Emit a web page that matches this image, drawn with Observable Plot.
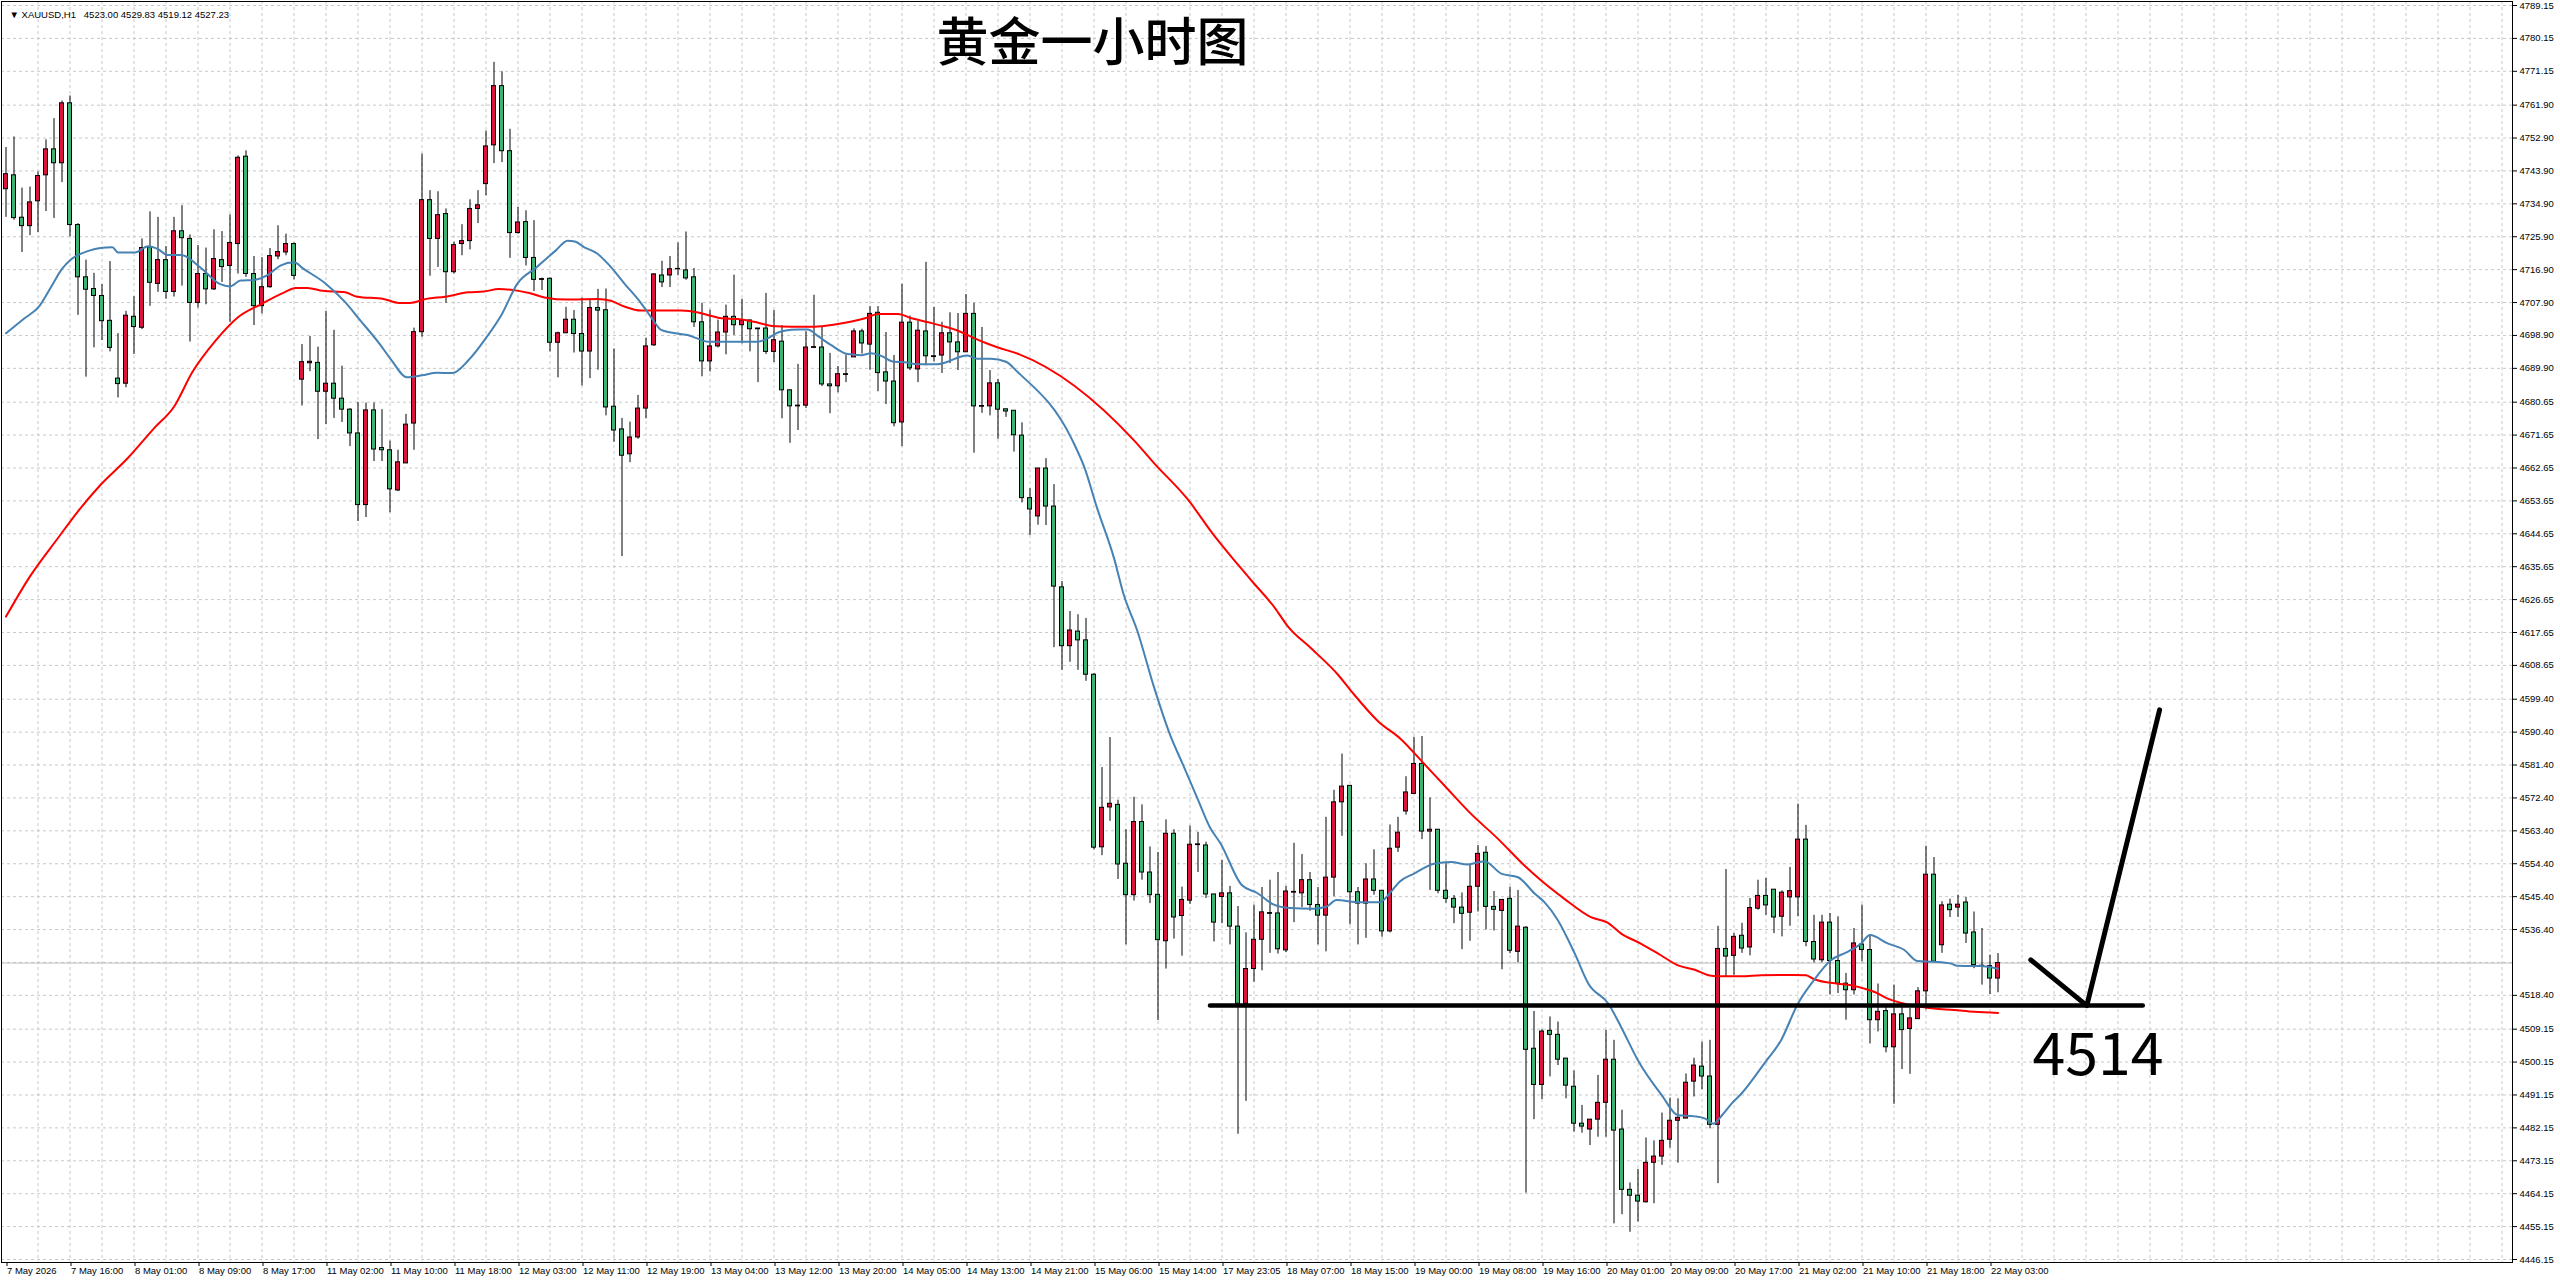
<!DOCTYPE html>
<html>
<head>
<meta charset="utf-8">
<script src="https://cdn.jsdelivr.net/npm/d3@7"></script>
<script src="https://cdn.jsdelivr.net/npm/@observablehq/plot@0.6"></script>
<style>
  html, body { margin: 0; padding: 0; background: #f0f0f0; }
  svg { display: block; }
</style>
</head>
<body>
<script>
// ---------- DATA ----------
const symbolHeader = "▼ XAUUSD,H1\u00a0\u00a0 4523.00 4529.83 4519.12 4527.23";
const chartTitle = "黄金一小时图";
const currentPrice = 4527.23;

// hourly bars, index 0 = 7 May 2026 (oldest) ... 249 = 22 May 04:00 (newest)
const opens = [4738.9,4742.7,4731.1,4728.8,4735.6,4742.7,4749.8,4746.0,4762.4,4729.1,4714.8,4711.6,4709.7,4702.9,4687.1,4685.7,4704.0,4701.0,4723.0,4713.0,4719.5,4710.8,4727.4,4725.3,4707.8,4715.7,4711.5,4719.5,4717.9,4723.9,4747.8,4715.7,4706.9,4712.1,4720.5,4721.6,4723.9,4686.8,4691.3,4691.4,4683.5,4685.7,4681.6,4678.6,4672.1,4652.5,4678.4,4668.1,4667.5,4656.5,4663.9,4674.8,4699.8,4735.9,4725.3,4732.1,4716.2,4723.9,4724.7,4733.5,4740.3,4750.9,4767.1,4749.3,4726.9,4729.9,4720.1,4714.1,4714.4,4696.9,4699.5,4703.2,4699.3,4694.5,4706.4,4705.8,4679.4,4673.2,4666.4,4671.0,4678.9,4696.2,4715.3,4715.3,4717.0,4716.7,4714.8,4702.5,4691.8,4695.9,4699.7,4704.0,4701.7,4703.0,4700.6,4700.8,4694.4,4697.2,4683.9,4679.5,4679.7,4695.5,4695.6,4685.5,4685.0,4688.1,4692.9,4700.0,4696.4,4705.1,4688.8,4686.3,4675.1,4702.4,4689.6,4700.0,4693.0,4693.4,4699.5,4697.0,4694.3,4704.8,4679.4,4679.5,4685.8,4678.7,4678.3,4671.5,4654.4,4649.4,4662.5,4652.1,4630.0,4613.9,4617.9,4615.5,4606.1,4558.9,4569.8,4570.5,4554.4,4545.8,4565.8,4552.0,4545.9,4533.2,4562.6,4540.1,4544.3,4559.5,4559.4,4546.0,4545.3,4546.3,4537.2,4516.1,4525.6,4533.6,4540.7,4540.8,4530.7,4546.5,4546.3,4549.9,4543.1,4540.2,4550.6,4571.2,4575.7,4546.6,4543.5,4550.1,4547.0,4535.9,4558.8,4568.7,4573.5,4581.7,4563.2,4563.7,4547.0,4544.8,4542.4,4541.0,4548.1,4557.4,4542.6,4541.5,4544.8,4530.3,4536.9,4503.8,4493.9,4508.7,4507.6,4501.1,4493.4,4483.3,4481.7,4484.4,4489.0,4500.8,4481.7,4465.2,4463.6,4461.8,4472.6,4474.3,4478.9,4484.1,4484.7,4494.8,4498.9,4496.2,4483.0,4531.1,4529.2,4534.7,4531.5,4542.1,4545.6,4547.3,4539.9,4545.2,4545.2,4561.0,4533.0,4528.0,4538.3,4527.8,4521.6,4519.8,4532.3,4530.8,4511.6,4514.1,4504.2,4513.2,4509.2,4511.9,4519.5,4551.4,4532.1,4543.2,4542.4,4543.8,4535.6,4526.5,4526.4,4523.00];
const highs = [4750.3,4753.2,4739.2,4739.5,4743.6,4752.4,4758.2,4763.0,4764.4,4729.5,4719.5,4715.9,4712.8,4719.1,4699.4,4705.5,4709.5,4725.3,4732.7,4731.2,4723.2,4731.2,4734.4,4726.4,4723.5,4722.8,4727.8,4727.3,4731.9,4748.0,4749.4,4720.5,4720.2,4722.7,4728.9,4726.6,4724.2,4696.4,4698.6,4695.7,4705.5,4700.3,4690.5,4678.9,4680.6,4680.4,4680.4,4678.6,4670.0,4667.5,4677.3,4700.9,4748.5,4738.5,4738.2,4733.5,4724.4,4729.2,4736.0,4738.5,4754.8,4773.6,4771.0,4755.3,4733.9,4733.0,4730.3,4714.6,4714.6,4699.8,4706.6,4705.7,4709.1,4708.9,4711.5,4711.6,4695.2,4676.2,4675.2,4682.5,4698.1,4715.8,4719.2,4720.5,4724.2,4727.2,4717.2,4707.7,4705.8,4703.1,4707.2,4715.4,4708.8,4703.1,4700.8,4710.4,4705.7,4701.6,4683.9,4691.0,4699.9,4709.9,4701.3,4694.0,4690.4,4693.5,4700.7,4700.6,4706.8,4706.8,4699.7,4693.4,4712.9,4704.2,4702.7,4718.9,4706.6,4702.5,4705.1,4704.9,4710.1,4707.7,4701.1,4689.3,4686.9,4678.7,4678.3,4675.0,4657.0,4662.6,4665.2,4658.1,4631.6,4623.4,4622.5,4621.5,4606.4,4580.7,4588.9,4571.8,4563.7,4572.6,4570.5,4559.0,4557.5,4566.4,4563.7,4548.0,4564.7,4563.0,4560.3,4546.0,4555.3,4548.2,4542.7,4535.5,4543.1,4547.9,4549.9,4552.0,4548.2,4560.0,4556.9,4552.0,4547.9,4567.1,4574.5,4584.4,4575.7,4547.9,4554.4,4558.2,4547.0,4565.0,4567.1,4578.2,4589.0,4589.2,4572.4,4563.7,4554.8,4545.7,4546.4,4554.2,4559.4,4559.1,4546.8,4544.5,4548.0,4547.1,4537.2,4514.0,4509.0,4512.5,4511.1,4501.1,4497.7,4488.3,4484.4,4496.5,4508.8,4506.1,4487.0,4467.1,4470.8,4479.4,4478.6,4486.2,4490.3,4490.1,4496.9,4501.2,4505.6,4506.1,4537.3,4552.8,4535.3,4538.1,4544.9,4549.9,4550.4,4547.3,4547.0,4553.4,4570.7,4564.9,4540.3,4540.3,4540.8,4539.9,4524.4,4536.7,4543.1,4534.9,4521.5,4515.7,4521.2,4515.7,4514.8,4520.5,4559.2,4556.1,4544.0,4544.7,4545.8,4545.2,4541.2,4536.7,4529.4,4529.83];
const lows = [4731.2,4730.4,4721.6,4726.2,4727.0,4732.8,4730.9,4740.7,4725.9,4704.4,4687.5,4695.5,4697.5,4694.4,4681.8,4684.6,4693.7,4700.5,4706.9,4710.7,4708.8,4709.4,4712.4,4697.1,4706.4,4707.3,4711.2,4713.4,4702.5,4715.7,4714.8,4701.6,4704.8,4711.8,4719.6,4720.7,4714.1,4679.6,4689.0,4670.4,4674.5,4676.2,4675.1,4668.5,4648.0,4649.1,4664.4,4664.4,4650.4,4656.2,4663.9,4667.5,4698.4,4715.1,4717.5,4707.7,4715.7,4720.7,4722.3,4729.5,4737.1,4745.9,4746.2,4720.0,4726.6,4717.9,4710.9,4711.2,4694.4,4687.3,4699.4,4694.1,4685.1,4687.1,4689.4,4676.9,4669.7,4638.4,4664.1,4670.5,4676.1,4695.9,4712.0,4712.0,4715.2,4714.0,4701.1,4687.6,4688.9,4695.5,4693.6,4698.9,4696.6,4694.4,4686.0,4693.7,4691.5,4676.1,4669.4,4672.9,4678.9,4695.3,4684.9,4677.5,4683.2,4686.0,4692.9,4693.8,4689.4,4683.5,4680.0,4673.9,4668.5,4689.3,4686.0,4690.6,4691.7,4688.5,4691.2,4689.3,4694.3,4666.7,4677.6,4676.9,4670.5,4676.5,4667.0,4653.1,4644.2,4647.0,4646.9,4613.5,4607.3,4609.5,4607.3,4604.3,4558.2,4556.6,4566.0,4550.1,4532.2,4544.2,4549.9,4543.5,4511.5,4525.6,4533.8,4529.1,4543.3,4552.0,4544.9,4533.0,4538.0,4532.2,4480.4,4489.4,4522.0,4525.1,4529.9,4529.7,4530.1,4538.3,4542.4,4541.4,4532.2,4530.3,4545.4,4561.9,4537.7,4532.2,4534.0,4545.8,4534.3,4535.5,4557.5,4567.7,4573.5,4561.0,4547.1,4546.2,4543.6,4538.0,4530.9,4533.2,4541.2,4536.3,4536.0,4525.4,4529.8,4527.3,4464.3,4484.4,4489.9,4496.1,4499.2,4490.1,4481.0,4480.7,4477.3,4479.6,4479.6,4455.9,4458.4,4453.6,4456.4,4461.6,4461.4,4471.9,4476.6,4472.5,4484.7,4490.6,4492.6,4481.9,4466.9,4523.3,4523.9,4529.9,4529.2,4541.7,4540.3,4535.3,4534.4,4537.3,4539.9,4531.7,4527.3,4527.3,4518.5,4518.9,4511.6,4518.5,4527.6,4505.1,4508.4,4502.7,4488.6,4498.1,4496.8,4511.9,4514.4,4527.3,4529.9,4539.7,4539.7,4532.6,4525.7,4521.2,4518.6,4519.12];
const closes = [4743.0,4731.0,4728.8,4735.3,4742.5,4749.8,4746.0,4762.4,4729.1,4714.8,4711.4,4709.7,4702.8,4695.5,4685.6,4704.3,4701.2,4722.8,4713.3,4719.5,4710.8,4727.4,4725.5,4707.8,4715.7,4711.5,4719.8,4717.6,4724.2,4747.5,4715.7,4706.9,4712.1,4720.6,4721.7,4723.9,4715.2,4691.6,4691.7,4683.5,4685.7,4681.6,4678.6,4672.1,4652.5,4678.4,4667.7,4667.5,4656.8,4664.2,4674.5,4699.8,4735.9,4725.3,4731.8,4716.2,4723.6,4724.7,4733.5,4734.5,4750.6,4767.1,4749.3,4726.9,4729.8,4720.1,4714.1,4714.3,4696.9,4699.5,4703.2,4699.3,4694.5,4706.4,4705.7,4679.2,4672.9,4666.0,4671.0,4678.9,4695.9,4715.6,4713.4,4717.0,4717.1,4714.5,4702.5,4691.8,4695.9,4699.7,4704.0,4701.7,4703.0,4700.6,4700.8,4694.4,4697.6,4683.9,4679.5,4679.7,4695.6,4695.7,4685.5,4685.0,4688.3,4688.3,4700.0,4696.7,4704.8,4688.6,4686.3,4674.9,4702.4,4689.9,4700.2,4693.2,4693.2,4699.5,4697.0,4694.3,4704.8,4679.5,4679.6,4685.8,4678.6,4678.1,4671.6,4654.4,4651.3,4662.5,4652.1,4630.2,4613.9,4618.2,4615.5,4606.1,4558.8,4569.7,4570.8,4554.2,4545.8,4565.8,4552.0,4545.8,4533.5,4562.6,4539.7,4544.5,4559.6,4559.7,4546.0,4538.3,4546.3,4537.2,4516.1,4525.6,4533.6,4541.1,4540.9,4531.0,4546.8,4546.7,4549.9,4543.1,4540.2,4550.6,4571.2,4575.5,4546.6,4543.5,4550.1,4547.0,4535.9,4558.5,4562.9,4573.9,4581.7,4563.2,4563.7,4547.0,4544.8,4542.4,4540.7,4548.1,4557.1,4542.6,4541.8,4544.5,4530.6,4537.2,4503.5,4493.9,4508.5,4507.6,4500.8,4493.7,4483.3,4482.5,4484.4,4489.0,4500.8,4481.4,4465.2,4463.6,4462.0,4472.6,4474.3,4478.6,4484.1,4484.9,4494.5,4499.2,4496.2,4483.0,4531.1,4529.0,4534.4,4531.2,4542.3,4545.6,4543.0,4539.7,4546.5,4546.9,4561.0,4533.0,4528.2,4538.3,4527.8,4521.6,4519.8,4532.6,4530.8,4511.6,4513.9,4504.2,4513.2,4508.9,4512.1,4519.5,4551.4,4527.6,4543.0,4541.7,4543.2,4535.3,4526.7,4526.3,4523.0,4527.23];

// moving averages: [bar index, price]
const maBlue = [[0,4699.5],[2.2,4703.4],[4.2,4707],[5.6,4712],[7,4717.1],[8.2,4719.8],[10.4,4722.1],[11.8,4722.8],[13.3,4723],[14,4721.6],[16.1,4721.6],[17.8,4723.3],[19,4722.5],[20.2,4720.9],[21.9,4720.9],[24.3,4717.5],[26.7,4713],[28,4712.3],[29.3,4713.9],[31,4714.1],[32.9,4715.7],[34.3,4718],[36,4718.9],[37.2,4717.1],[40,4713],[42.4,4708],[44.1,4703.5],[46.7,4696.6],[48.2,4692.1],[50.1,4687.5],[52,4688],[53.9,4688.7],[55.8,4688.6],[57.8,4692.1],[60.1,4698.5],[62,4704.8],[63.9,4713],[66.3,4717.5],[68.7,4722.1],[70.2,4724.8],[71.1,4724.6],[72.3,4723],[73.9,4721.3],[75.2,4718.6],[77.3,4713.1],[79.4,4707.7],[80.6,4704],[81.9,4700.4],[83.1,4699.7],[85.2,4699],[86.4,4698.1],[87.7,4697.2],[90.6,4697.2],[94,4697.2],[95.2,4698.1],[96.5,4699.7],[97.3,4700.2],[99,4700.5],[100.2,4700.5],[101.5,4698.7],[103.1,4696.3],[105.2,4693.8],[106.9,4693.5],[108.1,4694],[109.4,4693.3],[111,4691.7],[112.3,4691.6],[113.9,4691],[116.4,4691],[117.7,4691.7],[119.3,4693.1],[120.2,4693.4],[121.4,4692.5],[123.1,4692.5],[125,4691.7],[126.4,4689],[133.3,4670.2],[134.8,4662.8],[136.4,4651.6],[138.5,4638],[139.7,4628.1],[141.4,4618.2],[143.5,4602.7],[145.5,4589.7],[147.2,4581.1],[148.9,4572.4],[150.5,4564.3],[151.8,4560],[154.5,4548.5],[156.4,4546.4],[158.4,4543.3],[160.5,4542.3],[163.4,4542.1],[165.1,4542.7],[166.3,4544.5],[168.8,4543.9],[171.7,4543.9],[173,4546.4],[174.2,4549.5],[176,4551.7],[178.5,4554.4],[180.6,4554.9],[182.7,4554.2],[184.8,4555.1],[186.9,4551.7],[189,4550.7],[191.1,4546.2],[192.3,4543.9],[194,4538.9],[196.1,4529.8],[197.8,4521.6],[200.3,4516.1],[201.9,4509.7],[204,4500.6],[207,4491],[209,4485.6],[211.1,4485.3],[212.4,4484.7],[213.4,4483.3],[214.5,4485.6],[215.7,4488.8],[217,4491.7],[219.8,4499.8],[221.9,4506.2],[224,4516.2],[226,4522.6],[228.1,4528],[230.2,4530.3],[231.9,4532.6],[233,4534.9],[235.2,4532.6],[237.3,4530.8],[238.9,4527.8],[241,4527.6],[243.1,4527.1],[243.9,4526.5],[246.8,4526.4],[249,4525.7]];
const maRed = [[0,4622],[3,4633],[6.5,4643.5],[9,4650.8],[11.8,4658],[15.2,4665.3],[18.5,4673.5],[21,4679.4],[23.3,4688.9],[26.2,4697.5],[29,4703.9],[31.9,4707.5],[34.8,4710.7],[36.2,4711.9],[37.7,4711.9],[39.6,4711.1],[42.4,4710.7],[43.9,4709.5],[47.2,4708.9],[49.1,4707.8],[50.5,4707.8],[52.5,4708.9],[54.9,4709.5],[57.8,4710.7],[59.7,4710.9],[61.6,4711.6],[63.5,4711.3],[65.4,4710.5],[67.3,4709.3],[70.2,4708.7],[73.9,4708.9],[75.6,4708.4],[77.3,4706.8],[79.4,4705.7],[84.4,4705.7],[86.5,4705.2],[88.2,4704.2],[89.4,4703.6],[91.5,4703.4],[94,4702.4],[95.7,4701.5],[98.2,4701.3],[101.1,4701.3],[103.6,4701.9],[105.7,4702.7],[107.4,4703.6],[109,4704.8],[111.5,4704.8],[113.2,4703.6],[115.3,4702.5],[117.4,4701.3],[119,4700.2],[120.7,4698.5],[122.4,4696.9],[124,4695.6],[126.6,4693.8],[141,4670.2],[143.5,4664],[147.7,4654.1],[151,4644.2],[154,4636.2],[155.7,4631.8],[158.6,4624.4],[160.2,4619.4],[163.2,4613.2],[166.5,4606.1],[168.2,4601.5],[171.5,4593.4],[174.4,4588.4],[176.9,4582.6],[179.8,4575.8],[183.1,4568.1],[186.5,4561.2],[189.8,4553.9],[191.9,4549.8],[194.8,4544.8],[198.1,4539.8],[200.2,4538.3],[201.9,4535.3],[204.4,4532.5],[206.9,4529.3],[209,4526.6],[211.1,4525.4],[212.8,4523.9],[214,4523.6],[216.9,4523.6],[219.4,4523.9],[223.5,4524],[225,4523.9],[226,4522.8],[228.9,4521.6],[230.6,4521.2],[232.2,4520.3],[233.5,4519.4],[235.2,4517.5],[236.8,4516.4],[238.9,4515.4],[241,4514.8],[243.5,4514.4],[246,4513.9],[249,4513.6]];

// hand-drawn annotation: support level and a "tick" arrow, [bar index, price]
const supportLine = [[150.5,4515.6],[267.1,4515.6]];
const tickArrow = [[253.1,4528.1],[260.1,4515.6],[269.2,4596.5]];
const supportLabel = [{bar: 253.3, price: 4501.7, text: "4514"}];

// axis tick labels
const priceTicks = [4789.15,4780.15,4771.15,4761.90,4752.90,4743.90,4734.90,4725.90,4716.90,4707.90,4698.90,4689.90,4680.65,4671.65,4662.65,4653.65,4644.65,4635.65,4626.65,4617.65,4608.65,4599.40,4590.40,4581.40,4572.40,4563.40,4554.40,4545.40,4536.40,4518.40,4509.15,4500.15,4491.15,4482.15,4473.15,4464.15,4455.15,4446.15];
const timeLabels = ["7 May 2026","7 May 16:00","8 May 01:00","8 May 09:00","8 May 17:00","11 May 02:00","11 May 10:00","11 May 18:00","12 May 03:00","12 May 11:00","12 May 19:00","13 May 04:00","13 May 12:00","13 May 20:00","14 May 05:00","14 May 13:00","14 May 21:00","15 May 06:00","15 May 14:00","17 May 23:05","18 May 07:00","18 May 15:00","19 May 00:00","19 May 08:00","19 May 16:00","20 May 01:00","20 May 09:00","20 May 17:00","21 May 02:00","21 May 10:00","21 May 18:00","22 May 03:00"];

// ---------- BUILD ----------
const bars = opens.map((o, i) => ({i, open: o, high: highs[i], low: lows[i], close: closes[i]}));
const labelEvery = 8;
const timeTicks = timeLabels.map((_, k) => k * labelEvery);
const gridBars = d3.range(4, 316, 4);
const gridPrices = [...priceTicks, 4527.40];

const UP = "#dc143c", DOWN = "#3cb371";
const smallFont = "Liberation Sans, Arial, sans-serif";

const chart = Plot.plot({
  width: 2560,
  height: 1284,
  marginLeft: 1,
  marginTop: 1,
  marginRight: 48,
  marginBottom: 22,
  x: {type: "linear", domain: [0, 249], range: [5.5, 1997.5]},
  y: {type: "linear", domain: [4446.15, 4789.15], range: [1259, 5]},
  style: {background: "white", fontFamily: smallFont, fontSize: "9.5px", color: "black", overflow: "visible"},
  marks: [
    Plot.gridX(gridBars, {stroke: "#c8c8c8", strokeOpacity: 1, strokeDasharray: "3,3"}),
    Plot.gridY(gridPrices, {stroke: "#c8c8c8", strokeOpacity: 1, strokeDasharray: "3,3"}),
    Plot.ruleY([currentPrice], {stroke: "#c0c0c0", strokeWidth: 1}),
    Plot.ruleX(bars, {x: "i", y1: "low", y2: "high", stroke: "black", strokeWidth: 1}),
    Plot.rect(bars, {
      x1: d => d.i - 0.25, x2: d => d.i + 0.25,
      y1: "open", y2: "close",
      fill: d => d.close >= d.open ? UP : DOWN,
      stroke: "black", strokeWidth: 1
    }),
    Plot.line(maRed, {x: d => d[0], y: d => d[1], stroke: "#ff0000", strokeWidth: 2, curve: "monotone-x"}),
    Plot.line(maBlue, {x: d => d[0], y: d => d[1], stroke: "#4682b4", strokeWidth: 2, curve: "monotone-x"}),
    Plot.line(supportLine, {x: d => d[0], y: d => d[1], stroke: "black", strokeWidth: 4.5}),
    Plot.line(tickArrow, {x: d => d[0], y: d => d[1], stroke: "black", strokeWidth: 5, strokeLinejoin: "round"}),
    Plot.text(supportLabel, {x: "bar", y: "price", text: "text", textAnchor: "start", lineAnchor: "middle",
      fontSize: 59, fontFamily: "Noto Sans CJK SC", fill: "black"}),
    Plot.axisY(priceTicks, {anchor: "right", tickSize: 4, tickPadding: 3, tickFormat: d => d.toFixed(2), fontSize: 9.5, fill: "black", stroke: "black"}),
    Plot.axisX(timeTicks, {anchor: "bottom", tickSize: 4, tickPadding: 1, textAnchor: "start", dx: 1,
      tickFormat: d => timeLabels[d / labelEvery], fontSize: 9.5, fill: "black", stroke: "black"}),
    Plot.text([currentPrice], {y: d => d, frameAnchor: "right", dx: 8, textAnchor: "start",
      text: d => d.toFixed(2), fill: "white", fontSize: 9.5, ariaLabel: "current-price"}),
    Plot.frame({stroke: "black"}),
    Plot.text([symbolHeader], {frameAnchor: "top-left", dx: 8, dy: 10, textAnchor: "start", fontSize: 9.5, fill: "black"}),
    Plot.text([chartTitle], {frameAnchor: "top-left", dx: 1091, dy: 43, textAnchor: "middle", lineAnchor: "middle",
      fontSize: 52, fontWeight: 500, fontFamily: "Noto Sans CJK SC", fill: "black"})
  ]
});
document.body.append(chart);

// black box behind the current-price label on the price axis
const cp = chart.querySelector('g[aria-label="current-price"] text');
if (cp) {
  const bb = cp.getBBox();
  const r = document.createElementNS("http://www.w3.org/2000/svg", "rect");
  r.setAttribute("x", bb.x - 2);
  r.setAttribute("y", bb.y - 0.5);
  r.setAttribute("width", bb.width + 4);
  r.setAttribute("height", bb.height + 1);
  r.setAttribute("fill", "black");
  cp.parentNode.insertBefore(r, cp);
}
</script>
</body>
</html>
